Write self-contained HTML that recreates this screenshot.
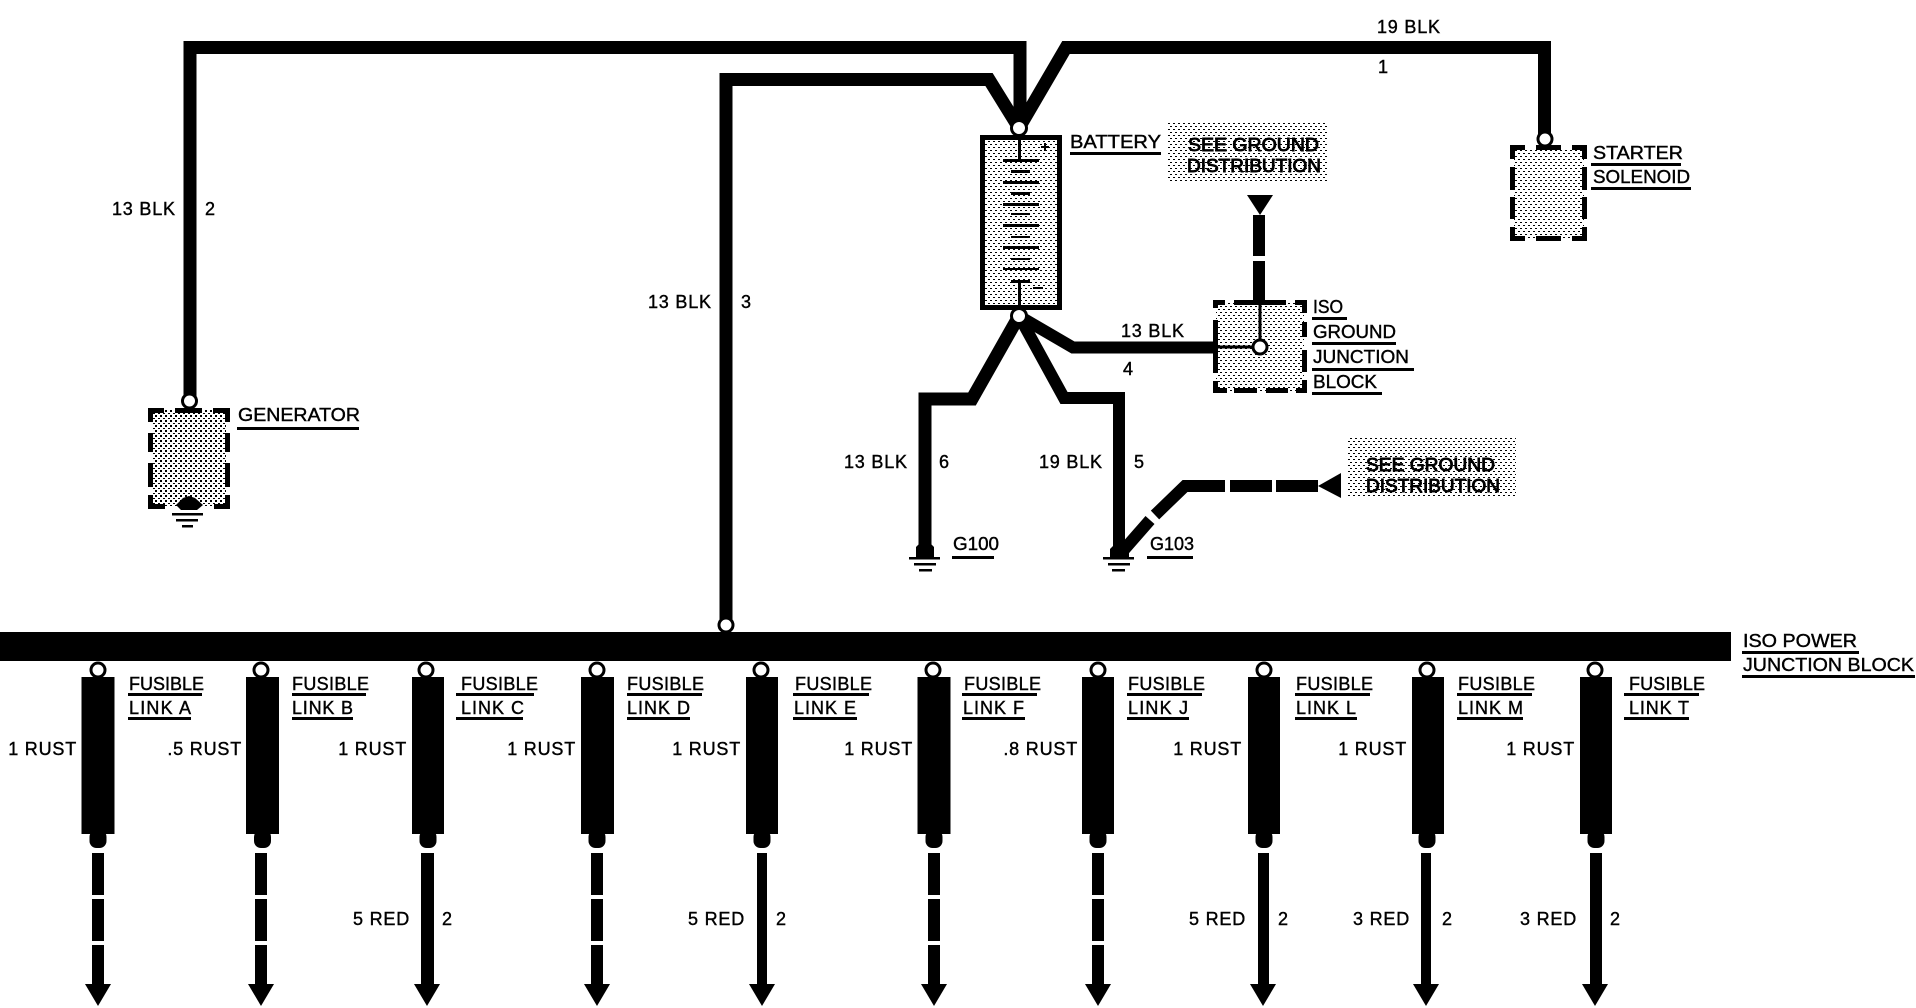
<!DOCTYPE html>
<html><head><meta charset="utf-8"><style>
html,body{margin:0;padding:0;background:#fff}
svg{display:block}
text{font-family:"Liberation Sans",sans-serif;font-size:18px;fill:#000;stroke:#000;stroke-width:.4px;letter-spacing:.8px}
text.e{text-anchor:end}
text.h{stroke-width:.9px;letter-spacing:0}
text.l{letter-spacing:0}
</style></head><body>
<svg width="1916" height="1008" viewBox="0 0 1916 1008" xmlns="http://www.w3.org/2000/svg">
<defs>
<pattern id="d" width="5" height="6" patternUnits="userSpaceOnUse"><rect width="5" height="6" fill="#fff"/><rect x="0" y="0" width="2" height="1" fill="#000"/><rect x="3" y="3" width="2" height="1" fill="#000"/></pattern>
<pattern id="g" width="5" height="5" patternUnits="userSpaceOnUse"><rect width="5" height="5" fill="#fff"/><rect x="0" y="0" width="2" height="2" fill="#000"/><rect x="3" y="3" width="2" height="1" fill="#000"/></pattern>
</defs>
<rect width="1916" height="1008" fill="#fff"/>

<!-- main bus -->
<rect x="0" y="632" width="1731" height="29" fill="#000"/>

<!-- shaded boxes -->
<rect x="1168" y="122" width="159" height="61" fill="url(#d)"/>
<rect x="1348" y="438" width="168" height="60" fill="url(#d)"/>
<rect x="152" y="410" width="74" height="96" fill="url(#g)"/>
<rect x="1514" y="148" width="70" height="91" fill="url(#d)"/>
<rect x="1216" y="303" width="88" height="88" fill="url(#d)"/>
<rect x="980" y="135" width="82" height="175" fill="url(#d)"/>

<!-- wires -->
<g fill="none" stroke="#000" stroke-linejoin="miter">
<polyline points="190,401 190,47.5 1020,47.5 1020,122" stroke-width="13"/>
<polyline points="726,625 726,79.5 989,79.5 1019,128" stroke-width="13"/>
<polyline points="1019,128 1066,47.5 1544.5,47.5 1544.5,139" stroke-width="13"/>
<polyline points="1019,316 1073,347.5 1213,347.5" stroke-width="12"/>
<polyline points="1019,316 972,399 925,399 925,548" stroke-width="13"/>
<polyline points="1019,316 1064,398 1119,398 1119,555" stroke-width="12"/>
<line x1="1259" y1="215" x2="1259" y2="256" stroke-width="12"/>
<line x1="1259" y1="261" x2="1259" y2="300" stroke-width="12"/>
<line x1="1260" y1="300" x2="1260" y2="347" stroke-width="3"/>
<line x1="1213" y1="347" x2="1260" y2="347" stroke-width="3"/>
<polyline points="1225,486 1185,486 1155,515" stroke-width="12"/>
<line x1="1150" y1="520" x2="1122" y2="552" stroke-width="12"/>
<line x1="1230" y1="486" x2="1272" y2="486" stroke-width="12"/>
<line x1="1276" y1="486" x2="1318" y2="486" stroke-width="12"/>
</g>
<polygon points="1247,195 1273,195 1260,215" fill="#000"/>
<polygon points="1318,486 1341,473 1341,498" fill="#000"/>

<!-- battery -->
<rect x="982.5" y="137.5" width="77" height="170" fill="none" stroke="#000" stroke-width="5"/>
<g fill="#000">
<rect x="1018" y="138" width="3" height="22"/>
<rect x="1003" y="159" width="36" height="3"/><rect x="1011" y="170" width="19" height="3"/>
<rect x="1003" y="181" width="36" height="3"/><rect x="1011" y="192" width="19" height="3"/>
<rect x="1003" y="203" width="36" height="3"/><rect x="1011" y="213" width="19" height="2"/>
<rect x="1003" y="224" width="36" height="3"/><rect x="1011" y="236" width="19" height="2"/>
<rect x="1003" y="246" width="36" height="3"/><rect x="1011" y="258" width="19" height="2"/>
<rect x="1003" y="268" width="36" height="2"/><rect x="1011" y="280" width="19" height="3"/>
<rect x="1018" y="280" width="3" height="28"/>
<rect x="1041" y="146" width="8" height="2"/><rect x="1044" y="143" width="2" height="8"/>
<rect x="1033" y="287" width="10" height="2"/>
</g>

<!-- dashed boxes -->
<g fill="#000">
<!-- generator -->
<rect x="148" y="408" width="16" height="5"/><rect x="175" y="408" width="27" height="5"/><rect x="213" y="408" width="17" height="5"/>
<rect x="148" y="408" width="5" height="14"/><rect x="148" y="433" width="5" height="19"/><rect x="148" y="463" width="5" height="24"/><rect x="148" y="495" width="5" height="14"/>
<rect x="225" y="408" width="5" height="14"/><rect x="225" y="433" width="5" height="19"/><rect x="225" y="463" width="5" height="24"/><rect x="225" y="495" width="5" height="14"/>
<rect x="148" y="504" width="17" height="5"/><rect x="214" y="504" width="16" height="5"/>
<polygon points="176,505 183,498 189,496 195,498 203,505 197,510 181,510"/>
<rect x="172" y="513" width="31" height="2.5"/><rect x="176" y="519" width="22" height="2.5"/><rect x="182" y="525" width="11" height="2.5"/>
<!-- starter -->
<rect x="1510" y="145" width="15" height="5"/><rect x="1536" y="145" width="25" height="5"/><rect x="1572" y="145" width="15" height="5"/>
<rect x="1510" y="145" width="5" height="14"/><rect x="1510" y="167" width="5" height="23"/><rect x="1510" y="197" width="5" height="22"/><rect x="1510" y="227" width="5" height="14"/>
<rect x="1582" y="145" width="5" height="14"/><rect x="1582" y="167" width="5" height="23"/><rect x="1582" y="197" width="5" height="22"/><rect x="1582" y="227" width="5" height="14"/>
<rect x="1510" y="236" width="15" height="5"/><rect x="1536" y="236" width="25" height="5"/><rect x="1572" y="236" width="15" height="5"/>
<!-- iso ground block -->
<rect x="1213" y="300" width="12" height="5"/><rect x="1234" y="300" width="52" height="5"/><rect x="1295" y="300" width="12" height="5"/>
<rect x="1213" y="300" width="5" height="8"/><rect x="1213" y="320" width="5" height="53"/><rect x="1213" y="381" width="5" height="12"/>
<rect x="1302" y="300" width="5" height="13"/><rect x="1302" y="322" width="5" height="15"/><rect x="1302" y="350" width="5" height="22"/><rect x="1302" y="380" width="5" height="13"/>
<rect x="1213" y="388" width="14" height="5"/><rect x="1234" y="388" width="23" height="5"/><rect x="1266" y="388" width="22" height="5"/><rect x="1296" y="388" width="11" height="5"/>
<!-- grounds -->
<polygon points="916,558 916,547 920,543 930,543 934,547 934,558"/>
<rect x="909" y="557" width="31" height="2.5"/><rect x="914" y="563" width="22" height="2.5"/><rect x="919" y="569" width="13" height="2.5"/>
<polygon points="1110,558 1110,549 1114,545 1124,545 1129,549 1129,558"/>
<rect x="1103" y="557" width="31" height="2.5"/><rect x="1108" y="563" width="22" height="2.5"/><rect x="1112" y="569" width="13" height="2.5"/>
</g>

<!-- circles -->
<g fill="#fff" stroke="#000" stroke-width="3">
<circle cx="1019" cy="128" r="7.5"/>
<circle cx="1019" cy="316" r="7.5"/>
<circle cx="189.500" cy="401" r="7"/>
<circle cx="1545" cy="139" r="7"/>
<circle cx="1260" cy="347" r="7"/>
<circle cx="726" cy="625" r="7"/>
</g>

<!-- fusible links -->
<g fill="#000">
<rect x="81.500" y="677" width="33" height="157"/><rect x="246" y="677" width="33" height="157"/><rect x="412" y="677" width="32" height="157"/><rect x="581" y="677" width="33" height="157"/><rect x="746" y="677" width="32" height="157"/><rect x="917.500" y="677" width="33" height="157"/><rect x="1082" y="677" width="32" height="157"/><rect x="1248" y="677" width="32" height="157"/><rect x="1412" y="677" width="32" height="157"/><rect x="1580" y="677" width="32" height="157"/>
<rect x="89.500" y="830" width="17" height="18" rx="7"/><rect x="254" y="830" width="17" height="18" rx="7"/><rect x="419.500" y="830" width="17" height="18" rx="7"/><rect x="588.500" y="830" width="17" height="18" rx="7"/><rect x="753.500" y="830" width="17" height="18" rx="7"/><rect x="925.500" y="830" width="17" height="18" rx="7"/><rect x="1089.500" y="830" width="17" height="18" rx="7"/><rect x="1255.500" y="830" width="17" height="18" rx="7"/><rect x="1418.500" y="830" width="17" height="18" rx="7"/><rect x="1587.500" y="830" width="17" height="18" rx="7"/>
<!-- dashed: A B D F J -->
<rect x="92" y="853" width="12" height="42"/><rect x="92" y="899" width="12" height="42"/><rect x="92" y="945" width="12" height="40"/>
<rect x="255" y="853" width="12" height="42"/><rect x="255" y="899" width="12" height="42"/><rect x="255" y="945" width="12" height="40"/>
<rect x="591" y="853" width="12" height="42"/><rect x="591" y="899" width="12" height="42"/><rect x="591" y="945" width="12" height="40"/>
<rect x="928" y="853" width="12" height="42"/><rect x="928" y="899" width="12" height="42"/><rect x="928" y="945" width="12" height="40"/>
<rect x="1092" y="853" width="12" height="42"/><rect x="1092" y="899" width="12" height="42"/><rect x="1092" y="945" width="12" height="40"/>
<!-- solid: C E L M T -->
<rect x="421" y="853" width="13" height="132"/><rect x="757" y="853" width="10" height="132"/><rect x="1258" y="853" width="11" height="132"/><rect x="1421" y="853" width="10" height="132"/><rect x="1590" y="853" width="12" height="132"/>
<!-- arrowheads -->
<polygon points="85,984 111,984 98,1006"/><polygon points="248,984 274,984 261,1006"/><polygon points="414,984 440,984 427,1006"/><polygon points="584,984 610,984 597,1006"/><polygon points="749,984 775,984 762,1006"/><polygon points="921,984 947,984 934,1006"/><polygon points="1085,984 1111,984 1098,1006"/><polygon points="1250,984 1276,984 1263,1006"/><polygon points="1413,984 1439,984 1426,1006"/><polygon points="1582,984 1608,984 1595,1006"/>
</g>
<g fill="#fff" stroke="#000" stroke-width="3">
<circle cx="98" cy="670" r="7"/><circle cx="261" cy="670" r="7"/><circle cx="426" cy="670" r="7"/><circle cx="597" cy="670" r="7"/><circle cx="761" cy="670" r="7"/><circle cx="933" cy="670" r="7"/><circle cx="1098" cy="670" r="7"/><circle cx="1264" cy="670" r="7"/><circle cx="1427" cy="670" r="7"/><circle cx="1595" cy="670" r="7"/>
</g>

<!-- underlines -->
<g fill="#000">
<rect x="1070" y="152" width="91" height="3"/>
<rect x="237" y="427" width="122" height="3"/>
<rect x="1591" y="163" width="90" height="3"/><rect x="1591" y="187" width="100" height="3"/>
<rect x="1312" y="317" width="35" height="3"/><rect x="1312" y="342" width="84" height="3"/><rect x="1312" y="368" width="102" height="3"/><rect x="1312" y="392" width="70" height="3"/>
<rect x="952" y="556" width="42" height="3"/><rect x="1147" y="556" width="46" height="3"/>
<rect x="1742" y="651" width="117" height="3"/><rect x="1742" y="675" width="173" height="3"/>
<rect x="128" y="693" width="74" height="3"/><rect x="128" y="717" width="63" height="3"/>
<rect x="292" y="693" width="74" height="3"/><rect x="292" y="717" width="61" height="3"/>
<rect x="456" y="693" width="78" height="3"/><rect x="456" y="717" width="67" height="3"/>
<rect x="627" y="693" width="75" height="3"/><rect x="627" y="717" width="63" height="3"/>
<rect x="793" y="693" width="76" height="3"/><rect x="793" y="717" width="64" height="3"/>
<rect x="962" y="693" width="75" height="3"/><rect x="962" y="717" width="63" height="3"/>
<rect x="1127" y="693" width="75" height="3"/><rect x="1127" y="717" width="62" height="3"/>
<rect x="1295" y="693" width="75" height="3"/><rect x="1295" y="717" width="62" height="3"/>
<rect x="1457" y="693" width="75" height="3"/><rect x="1457" y="717" width="66" height="3"/>
<rect x="1624" y="693" width="75" height="3"/><rect x="1624" y="717" width="65" height="3"/>
</g>

<!-- labels -->
<text x="1070" y="148" class="l" textLength="91" lengthAdjust="spacingAndGlyphs">BATTERY</text>
<text x="238" y="421" class="l" textLength="122" lengthAdjust="spacingAndGlyphs">GENERATOR</text>
<text x="1593" y="159" class="l" textLength="90" lengthAdjust="spacingAndGlyphs">STARTER</text>
<text x="1593" y="183" class="l" textLength="97" lengthAdjust="spacingAndGlyphs">SOLENOID</text>
<text x="1313" y="313" class="l" textLength="30" lengthAdjust="spacingAndGlyphs">ISO</text>
<text x="1313" y="338" class="l" textLength="83" lengthAdjust="spacingAndGlyphs">GROUND</text>
<text x="1313" y="363" class="l" textLength="96" lengthAdjust="spacingAndGlyphs">JUNCTION</text>
<text x="1313" y="388" class="l" textLength="64" lengthAdjust="spacingAndGlyphs">BLOCK</text>
<text x="1188" y="151" class="h" textLength="131" lengthAdjust="spacingAndGlyphs">SEE GROUND</text>
<text x="1187" y="172" class="h" textLength="134" lengthAdjust="spacingAndGlyphs">DISTRIBUTION</text>
<text x="1366" y="471" class="h" textLength="129" lengthAdjust="spacingAndGlyphs">SEE GROUND</text>
<text x="1366" y="492" class="h" textLength="134" lengthAdjust="spacingAndGlyphs">DISTRIBUTION</text>
<text x="1743" y="647" class="l" textLength="114" lengthAdjust="spacingAndGlyphs">ISO POWER</text>
<text x="1743" y="671" class="l" textLength="171" lengthAdjust="spacingAndGlyphs">JUNCTION BLOCK</text>
<text x="953" y="550" class="l" textLength="46" lengthAdjust="spacingAndGlyphs">G100</text>
<text x="1150" y="550" class="l" textLength="44" lengthAdjust="spacingAndGlyphs">G103</text>

<text x="1377" y="33">19 BLK</text><text x="1378" y="73">1</text>
<text x="1121" y="337">13 BLK</text><text x="1123" y="375">4</text>
<text x="112" y="215">13 BLK</text><text x="205" y="215">2</text>
<text x="648" y="308">13 BLK</text><text x="741" y="308">3</text>
<text x="844" y="468">13 BLK</text><text x="939" y="468">6</text>
<text x="1039" y="468">19 BLK</text><text x="1134" y="468">5</text>

<text x="129" y="690" class="l" textLength="75">FUSIBLE</text><text x="129" y="714" class="l" textLength="62">LINK A</text>
<text x="292" y="690" class="l" textLength="77">FUSIBLE</text><text x="292" y="714" class="l" textLength="61">LINK B</text>
<text x="461" y="690" class="l" textLength="77">FUSIBLE</text><text x="461" y="714" class="l" textLength="63">LINK C</text>
<text x="627" y="690" class="l" textLength="77">FUSIBLE</text><text x="627" y="714" class="l" textLength="63">LINK D</text>
<text x="795" y="690" class="l" textLength="77">FUSIBLE</text><text x="794" y="714" class="l" textLength="62">LINK E</text>
<text x="964" y="690" class="l" textLength="77">FUSIBLE</text><text x="963" y="714" class="l" textLength="61">LINK F</text>
<text x="1128" y="690" class="l" textLength="77">FUSIBLE</text><text x="1128" y="714" class="l" textLength="60">LINK J</text>
<text x="1296" y="690" class="l" textLength="77">FUSIBLE</text><text x="1296" y="714" class="l" textLength="60">LINK L</text>
<text x="1458" y="690" class="l" textLength="77">FUSIBLE</text><text x="1458" y="714" class="l" textLength="65">LINK M</text>
<text x="1629" y="690" class="l" textLength="76">FUSIBLE</text><text x="1629" y="714" class="l" textLength="60">LINK T</text>

<text x="77" y="755" class="e">1 RUST</text>
<text x="242" y="755" class="e">.5 RUST</text>
<text x="407" y="755" class="e">1 RUST</text>
<text x="576" y="755" class="e">1 RUST</text>
<text x="741" y="755" class="e">1 RUST</text>
<text x="913" y="755" class="e">1 RUST</text>
<text x="1078" y="755" class="e">.8 RUST</text>
<text x="1242" y="755" class="e">1 RUST</text>
<text x="1407" y="755" class="e">1 RUST</text>
<text x="1575" y="755" class="e">1 RUST</text>

<text x="410" y="925" class="e">5 RED</text><text x="442" y="925">2</text>
<text x="745" y="925" class="e">5 RED</text><text x="776" y="925">2</text>
<text x="1246" y="925" class="e">5 RED</text><text x="1278" y="925">2</text>
<text x="1410" y="925" class="e">3 RED</text><text x="1442" y="925">2</text>
<text x="1577" y="925" class="e">3 RED</text><text x="1610" y="925">2</text>
</svg>
</body></html>
